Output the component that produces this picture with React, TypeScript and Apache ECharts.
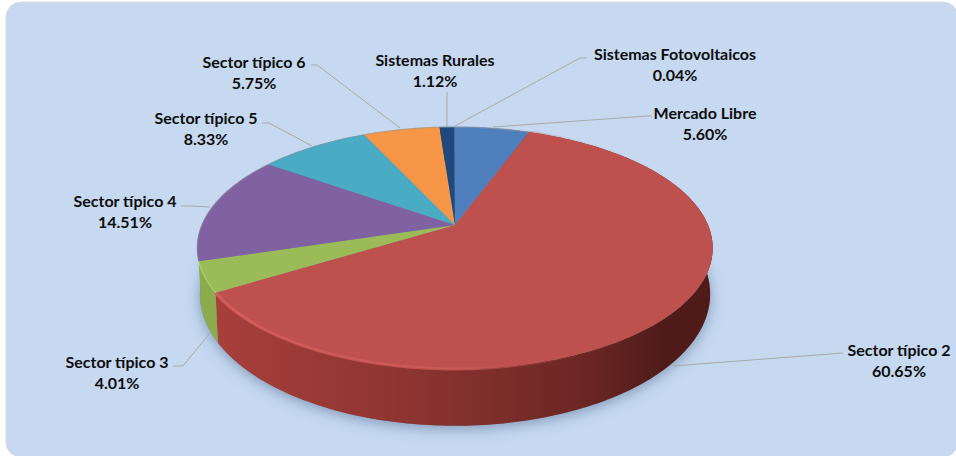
import React, { useEffect, useRef } from "react";
import * as echarts from "echarts";

const categories = ["Mercado Libre", "Sector típico 2", "Sector típico 3", "Sector típico 4", "Sector típico 5", "Sector típico 6", "Sistemas Rurales", "Sistemas Fotovoltaicos"];
const shares = [5.6, 60.65, 4.01, 14.51, 8.33, 5.75, 1.12, 0.04];
const faceColors = ["#4F7FBC", "#BE504D", "#9BBB59", "#8061A1", "#4AABC5", "#F79646", "#1F497D", "#4A7EBB"];
const wallColors = ["#3A6090", "#8F3632", "#8CAB4E", "#8CAB4E", "#37839A", "#C0722F", "#173659", "#3A6090"];
const rimColors = ["#7E8FA8", "#E0625E", "#B4D46E", "#8878A0", "#6E9CAC", "#B89A78", "#6E7F98", "#7E8FA8"];

const labelCenters = [[705, 112], [899, 349], [117, 361], [125, 200], [206, 117], [254, 61], [435, 59], [675, 53]];
const leaders = [
  [[493, 127], [647, 116], [652, 116]],
  [[673, 366], [843, 353]],
  [[210, 333], [183, 366], [173, 366]],
  [[210, 207], [190, 206], [181, 206]],
  [[312, 146], [269, 123], [262, 123]],
  [[400, 128], [317, 65], [311, 65]],
  [[447, 126], [447, 92]],
  [[455, 126], [580, 58], [587, 58]],
];

const CX = 455, K = 0.19;
const TOP = { y0: 225, rx: 253, ry: 116.6 };
const BOTTOM = { y0: 269, rx: 250.5, ry: 127 };
const total = shares.reduce((a, b) => a + b, 0);

const project = (m: typeof TOP, a: number) => {
  const u = Math.sin(a), v = -Math.cos(a), d = 1 - K * v;
  return [CX + (m.rx * u) / d, m.y0 + (m.ry * v) / d];
};
const sliceAngles = (i: number) => {
  const before = shares.slice(0, i).reduce((a, b) => a + b, 0);
  return [(before / total) * 2 * Math.PI, ((before + shares[i]) / total) * 2 * Math.PI];
};
const arc = (m: typeof TOP, a0: number, a1: number) => {
  const n = Math.max(2, Math.ceil((a1 - a0) / 0.02));
  const pts: number[][] = [];
  for (let k = 0; k <= n; k++) pts.push(project(m, a0 + ((a1 - a0) * k) / n));
  return pts;
};
const none = { coordinateSystem: "none" as const, silent: true };
const seriesData = shares.map((v, i) => ({ name: categories[i], value: [v, i] }));

export default function App() {
  const ref = useRef<HTMLDivElement>(null);
  useEffect(() => {
    const chart = echarts.init(ref.current!, undefined, { renderer: "svg" });
    chart.setOption({
      animation: false,
      backgroundColor: "#ffffff",
      graphic: [
        {
          type: "rect", z: -10, silent: true,
          shape: { x: 6, y: 2, width: 952, height: 455, r: 15 },
          style: { fill: "#C6D9F1", stroke: "#DADDE2", lineWidth: 1 },
        },
      ],
      series: [
        {
          type: "custom", ...none, z: 1, data: [{ value: [0] }],
          renderItem: () => ({
            type: "polygon",
            shape: { points: arc(BOTTOM, 0, 2 * Math.PI) },
            style: { fill: "#7F8CA0", shadowBlur: 14, shadowColor: "rgba(60,85,125,0.5)", shadowOffsetY: 3, shadowOffsetX: 0 },
          }),
        },
        {
          type: "custom", ...none, z: 2, data: seriesData,
          renderItem: (_p: any, api: any) => {
            const i = api.value(1);
            const [a0, a1] = sliceAngles(i);
            const pts = [...arc(TOP, a0, a1), ...arc(BOTTOM, a0, a1).reverse()];
            const isMain = i === 1;
            return {
              type: "polygon",
              shape: { points: pts },
              style: {
                fill: isMain
                  ? {
                      type: "linear", global: true, x: 215, y: 0, x2: 715, y2: 0,
                      colorStops: [
                        { offset: 0, color: "#A83F3B" },
                        { offset: 0.4, color: "#8C3431" },
                        { offset: 0.75, color: "#6A2623" },
                        { offset: 0.9, color: "#4E1B19" },
                        { offset: 1, color: "#4E1B19" },
                      ],
                    }
                  : wallColors[i],
              },
            };
          },
        },
        {
          type: "custom", ...none, z: 3, data: seriesData,
          renderItem: (_p: any, api: any) => {
            const i = api.value(1);
            const [a0, a1] = sliceAngles(i);
            return {
              type: "polygon",
              shape: { points: [[CX, TOP.y0], ...arc(TOP, a0, a1)] },
              style: { fill: faceColors[i] },
            };
          },
        },
        {
          type: "custom", ...none, z: 4, data: seriesData,
          renderItem: (_p: any, api: any) => {
            const i = api.value(1);
            const [a0, a1] = sliceAngles(i);
            const isMain = i === 1;
            return {
              type: "polyline",
              shape: { points: arc(TOP, a0, a1) },
              style: {
                fill: "none",
                lineWidth: isMain ? 3 : 1.2,
                opacity: isMain ? 0.75 : 0.9,
                stroke: isMain
                  ? {
                      type: "linear", global: true, x: 215, y: 0, x2: 715, y2: 0,
                      colorStops: [
                        { offset: 0, color: "#E0625E" },
                        { offset: 0.5, color: "#D25A56" },
                        { offset: 0.72, color: "rgba(190,80,77,0.1)" },
                        { offset: 1, color: "rgba(190,80,77,0)" },
                      ],
                    }
                  : rimColors[i],
              },
            };
          },
        },
        {
          type: "custom", ...none, z: 5, data: seriesData,
          renderItem: (_p: any, api: any) => {
            const i = api.value(1);
            const [cx, cy] = labelCenters[i];
            return {
              type: "group",
              children: [
                {
                  type: "polyline",
                  shape: { points: leaders[i] },
                  style: { fill: "none", stroke: "#ABA9A4", lineWidth: 1 },
                },
                {
                  type: "text", x: cx, y: cy,
                  style: {
                    text: categories[i], fill: "#0D0D0D", align: "center", verticalAlign: "middle",
                    font: "bold 16px Lato",
                  },
                },
                {
                  type: "text", x: cx, y: cy + 21,
                  style: {
                    text: shares[i].toFixed(2) + "%", fill: "#0D0D0D", align: "center", verticalAlign: "middle",
                    font: "bold 16px Lato",
                  },
                },
              ],
            };
          },
        },
      ],
    });
    return () => chart.dispose();
  }, []);
  return <div ref={ref} style={{ position: "absolute", left: 0, top: 0, width: 956, height: 456 }} />;
}
